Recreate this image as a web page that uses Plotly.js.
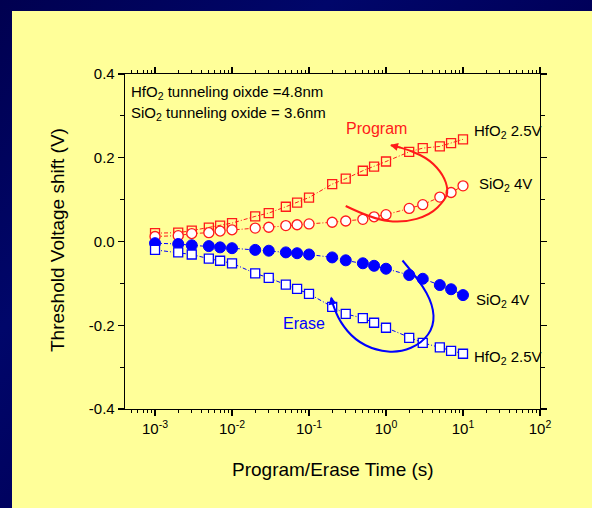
<!DOCTYPE html>
<html>
<head>
<meta charset="utf-8">
<script src="https://cdn.plot.ly/plotly-3.0.1.min.js"></script>
<style>
html,body{margin:0;padding:0;width:592px;height:508px;overflow:hidden;}
body{background:linear-gradient(135deg,#000050 0%,#00066a 30%,#00005a 55%,#000a70 80%,#000058 100%);position:relative;}
#panel{position:absolute;left:12px;top:11px;width:580px;height:497px;background:#ffff99;}
#chart{position:absolute;left:0;top:0;width:592px;height:508px;}
</style>
</head>
<body>
<div id="panel"></div>
<div id="chart"></div>
<script>
// ---- data ----
const timeS = [0.001,0.002,0.003,0.005,0.007,0.01,0.02,0.03,0.05,0.07,0.1,0.2,0.3,0.5,0.7,1,2,3,5,7,10];
const programHfO2 = [0.020,0.021,0.026,0.033,0.038,0.044,0.060,0.068,0.083,0.093,0.105,0.137,0.150,0.169,0.179,0.191,0.214,0.223,0.227,0.235,0.244];
const programSiO2 = [0.012,0.014,0.019,0.021,0.025,0.028,0.032,0.034,0.038,0.040,0.042,0.046,0.049,0.053,0.059,0.064,0.079,0.088,0.106,0.117,0.133];
const eraseSiO2 = [-0.004,-0.006,-0.009,-0.011,-0.014,-0.016,-0.020,-0.022,-0.026,-0.028,-0.031,-0.038,-0.045,-0.052,-0.058,-0.065,-0.080,-0.089,-0.104,-0.114,-0.128];
const eraseHfO2 = [-0.020,-0.026,-0.031,-0.041,-0.046,-0.052,-0.076,-0.087,-0.103,-0.113,-0.125,-0.156,-0.173,-0.183,-0.194,-0.206,-0.230,-0.242,-0.253,-0.261,-0.268];
const xTickVals = [0.001,0.01,0.1,1,10,100];
const xTickText = ["10<sup>-3</sup>","10<sup>-2</sup>","10<sup>-1</sup>","10<sup>0</sup>","10<sup>1</sup>","10<sup>2</sup>"];
const yTickVals = [-0.4,-0.2,0,0.2,0.4];
const yTickText = ["-0.4","-0.2","0.0","0.2","0.4"];
const xTitle = 'Program/Erase Time (s)';
const yTitle = 'Threshold Voltage shift (V)';

// ---- layout helpers ----
const W = 592, H = 508;
const M = {l:125, r:52, t:74, b:99};
const PW = W - M.l - M.r, PH = H - M.t - M.b;
const px = X => (X - M.l) / PW;
const py = Y => (H - M.b - Y) / PH;

function smoothPath(pts){
  const p = pts.map(q => [px(q[0]), py(q[1])]);
  let d = 'M' + p[0][0] + ',' + p[0][1];
  for(let i=1;i<p.length-1;i++){
    const mx = (p[i][0]+p[i+1][0])/2, my = (p[i][1]+p[i+1][1])/2;
    d += ' Q' + p[i][0] + ',' + p[i][1] + ' ' + mx + ',' + my;
  }
  const n = p[p.length-1];
  d += ' L' + n[0] + ',' + n[1];
  return d;
}
const redCurve = [[345.7,206],[373.3,219.3],[403.3,222.7],[430,215],[445,200],[448.3,190],[443.3,175],[430,160],[410,150],[391,145.3]];
const blueCurve = [[402.5,260.5],[420,281],[433,305],[434,326],[422,343],[400,352.5],[376,350.5],[355,340],[340,322],[333,305],[331.3,298]];

const LINE_DASH = '4px,2px,1px,2px';
const traces = [
  {x: timeS, y: programHfO2, type:'scatter', mode:'lines+markers',
   line:{color:'#ff1a1a', width:1, dash:LINE_DASH},
   marker:{symbol:'square-open', size:9, color:'#ff1a1a', line:{width:1.3}}},
  {x: timeS, y: programSiO2, type:'scatter', mode:'lines+markers',
   line:{color:'#ff1a1a', width:1, dash:LINE_DASH},
   marker:{symbol:'circle', size:10, color:'#ffffff', line:{color:'#ff1a1a', width:1.3}}},
  {x: timeS, y: eraseSiO2, type:'scatter', mode:'lines+markers',
   line:{color:'#0000ff', width:1, dash:LINE_DASH},
   marker:{symbol:'circle', size:11, color:'#0000ff', line:{color:'#0000ff', width:1}}},
  {x: timeS, y: eraseHfO2, type:'scatter', mode:'lines+markers',
   line:{color:'#0000ff', width:1, dash:LINE_DASH},
   marker:{symbol:'square', size:9, color:'#ffffff', line:{color:'#0000ff', width:1.3}}}
];

const FONT = 'Liberation Sans, Arial, sans-serif';
const txt = (X, Y, text, color, size) => ({xref:'paper', yref:'paper', x:px(X), y:py(Y), text:text,
  showarrow:false, xanchor:'left', yanchor:'middle', font:{family:FONT, size:size||15, color:color||'#000'}});

const layout = {
  width: W, height: H,
  margin: M,
  paper_bgcolor:'rgba(0,0,0,0)', plot_bgcolor:'rgba(0,0,0,0)',
  showlegend:false,
  font:{family:FONT, color:'#000'},
  xaxis:{type:'log', range:[-3.39, 2], tickvals:xTickVals, ticktext:xTickText,
    showgrid:false, zeroline:false, showline:true, linecolor:'#000', linewidth:1.3, mirror:'ticks',
    ticks:'outside', ticklen:6, tickwidth:1.2, tickcolor:'#000',
    minor:{dtick:'D1', ticks:'outside', ticklen:3, tickwidth:1, tickcolor:'#000', showgrid:false},
    tickfont:{family:FONT, size:15}},
  yaxis:{range:[-0.4, 0.4], tickvals:yTickVals, ticktext:yTickText,
    showgrid:false, zeroline:false, showline:true, linecolor:'#000', linewidth:1.3, mirror:'ticks',
    ticks:'outside', ticklen:6, tickwidth:1.2, tickcolor:'#000',
    minor:{dtick:0.1, ticks:'outside', ticklen:4, tickwidth:1, tickcolor:'#000', showgrid:false},
    tickfont:{family:FONT, size:15}},
  shapes:[
    {type:'path', xref:'paper', yref:'paper', path:smoothPath(redCurve), line:{color:'#ff1a1a', width:2}},
    {type:'path', xref:'paper', yref:'paper', path:smoothPath(blueCurve), line:{color:'#0000ff', width:2}}
  ],
  annotations:[
    {xref:'paper', yref:'paper', x:px(333), y:py(469), text:xTitle, showarrow:false,
     xanchor:'center', yanchor:'middle', font:{family:FONT, size:19, color:'#000'}},
    {xref:'paper', yref:'paper', x:px(57), y:py(240), text:yTitle, showarrow:false, textangle:-90,
     xanchor:'center', yanchor:'middle', font:{family:FONT, size:19, color:'#000'}},
    txt(129, 92, 'HfO<sub>2</sub> tunneling oixde =4.8nm'),
    txt(129, 113.5, 'SiO<sub>2</sub> tunneling oxide = 3.6nm'),
    txt(344, 128.5, 'Program', '#ff1a1a', 16),
    txt(471.5, 131.5, 'HfO<sub>2</sub> 2.5V'),
    txt(476.5, 184, 'SiO<sub>2</sub> 4V'),
    txt(474, 300, 'SiO<sub>2</sub> 4V'),
    txt(472, 357, 'HfO<sub>2</sub> 2.5V'),
    txt(281, 323.5, 'Erase', '#0000ff', 16),
    {xref:'paper', yref:'paper', x:px(390), y:py(145), ax:12, ay:3, text:'', showarrow:true,
     arrowhead:2, arrowsize:1, arrowwidth:1.6, arrowcolor:'#ff1a1a'},
    {xref:'paper', yref:'paper', x:px(331), y:py(296.5), ax:2, ay:10, text:'', showarrow:true,
     arrowhead:2, arrowsize:1, arrowwidth:1.6, arrowcolor:'#0000ff'}
  ]
};

Plotly.newPlot('chart', traces, layout, {displayModeBar:false, staticPlot:true});
</script>
</body>
</html>
